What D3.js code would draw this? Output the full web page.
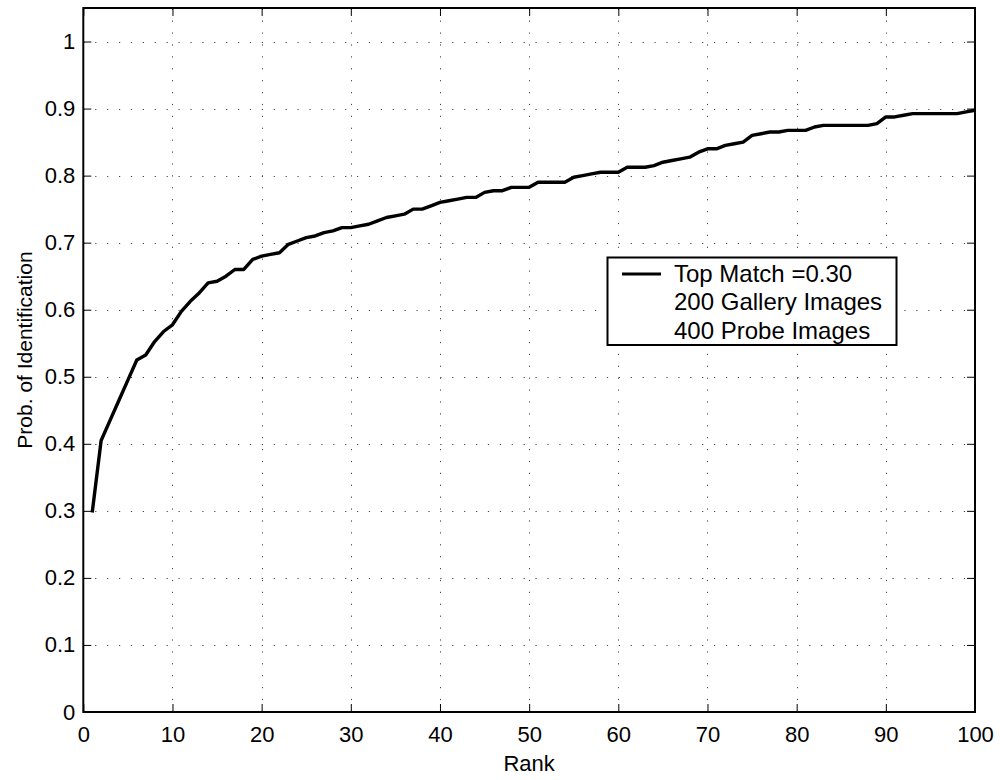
<!DOCTYPE html>
<html>
<head>
<meta charset="utf-8">
<script src="https://cdn.jsdelivr.net/npm/d3@7"></script>
<style>
  html, body { margin: 0; padding: 0; background: #fff; }
  svg { display: block; font-family: "Liberation Sans", Arial, Helvetica, sans-serif; }
</style>
</head>
<body>
<svg id="chart" width="1000" height="780"></svg>
<script>
// ---- data ----
const ranks = d3.range(1, 101);
const probId = [
  0.2975, 0.405, 0.435, 0.465, 0.495, 0.525, 0.5325, 0.5525, 0.5675, 0.5775,
  0.5975, 0.6125, 0.625, 0.64, 0.6425, 0.65, 0.66, 0.66, 0.675, 0.68,
  0.6825, 0.685, 0.6975, 0.7025, 0.7075, 0.71, 0.715, 0.7175, 0.7225, 0.7225,
  0.725, 0.7275, 0.7325, 0.7375, 0.74, 0.7425, 0.75, 0.75, 0.755, 0.76,
  0.7625, 0.765, 0.7675, 0.7675, 0.775, 0.7775, 0.7775, 0.7825, 0.7825, 0.7825,
  0.79, 0.79, 0.79, 0.79, 0.7975, 0.80, 0.8025, 0.805, 0.805, 0.805,
  0.8125, 0.8125, 0.8125, 0.815, 0.82, 0.8225, 0.825, 0.8275, 0.835, 0.84,
  0.84, 0.845, 0.8475, 0.85, 0.86, 0.8625, 0.865, 0.865, 0.8675, 0.8675,
  0.8675, 0.8725, 0.875, 0.875, 0.875, 0.875, 0.875, 0.875, 0.8775, 0.8875,
  0.8875, 0.89, 0.8925, 0.8925, 0.8925, 0.8925, 0.8925, 0.8925, 0.895, 0.8975
];
const xTicks = [0, 10, 20, 30, 40, 50, 60, 70, 80, 90, 100];
const yTicks = [0, 0.1, 0.2, 0.3, 0.4, 0.5, 0.6, 0.7, 0.8, 0.9, 1];
const yTickLabels = ["0", "0.1", "0.2", "0.3", "0.4", "0.5", "0.6", "0.7", "0.8", "0.9", "1"];
const legendLines = ["Top Match =0.30", "200 Gallery Images", "400 Probe Images"];
const xTitle = "Rank";
const yTitle = "Prob. of Identification";

// ---- layout ----
const L = 83.3, R = 975, T = 8, B = 712;
const svg = d3.select("#chart");
const x = d3.scaleLinear().domain([0, 100]).range([L, R]);
const y = d3.scaleLinear().domain([0, 1.05]).range([B, T]);

// grid
const grid = svg.append("g").attr("stroke", "#444").attr("stroke-width", 1)
  .attr("stroke-dasharray", "1.2,10.7");
grid.selectAll(".vg").data(xTicks.filter(d => d > 0 && d < 100)).join("line")
  .attr("x1", d => Math.round(x(d)) + 0.5).attr("x2", d => Math.round(x(d)) + 0.5)
  .attr("y1", B).attr("y2", T);
grid.selectAll(".hg").data(yTicks.filter(d => d > 0)).join("line")
  .attr("y1", d => Math.round(y(d)) + 0.5).attr("y2", d => Math.round(y(d)) + 0.5)
  .attr("x1", L).attr("x2", R);

// axes (MATLAB-style inward ticks on all four sides)
const tickLen = 8;
const fs = 22;
const xAxisB = d3.axisBottom(x).tickValues(xTicks).tickSizeInner(-tickLen).tickSizeOuter(0).tickPadding(14);
const xAxisT = d3.axisTop(x).tickValues(xTicks).tickSizeInner(-tickLen).tickSizeOuter(0).tickFormat("");
const yAxisL = d3.axisLeft(y).tickValues(yTicks).tickSizeInner(-tickLen).tickSizeOuter(0).tickPadding(8)
  .tickFormat((d, i) => yTickLabels[i]);
const yAxisR = d3.axisRight(y).tickValues(yTicks).tickSizeInner(-tickLen).tickSizeOuter(0).tickFormat("");

function styleAxis(g) {
  g.select(".domain").remove();
  g.selectAll(".tick line").attr("stroke", "#000").attr("stroke-width", 1);
  g.selectAll(".tick text").attr("fill", "#000").attr("font-size", fs)
    .attr("font-family", "'Liberation Sans', Arial, Helvetica, sans-serif");
}
svg.append("g").attr("transform", `translate(0,${B})`).call(xAxisB).call(styleAxis);
svg.append("g").attr("transform", `translate(0,${T})`).call(xAxisT).call(styleAxis);
svg.append("g").attr("transform", `translate(${L},0)`).call(yAxisL).call(styleAxis);
svg.append("g").attr("transform", `translate(${R},0)`).call(yAxisR).call(styleAxis);

// box
svg.append("rect").attr("x", L).attr("y", T).attr("width", R - L).attr("height", B - T)
  .attr("fill", "none").attr("stroke", "#000").attr("stroke-width", 2);

// curve
const line = d3.line().x((d, i) => x(ranks[i])).y(d => y(d));
svg.append("path").datum(probId).attr("d", line)
  .attr("fill", "none").attr("stroke", "#000").attr("stroke-width", 3.4)
  .attr("stroke-linejoin", "round");

// titles
svg.append("text").attr("x", (L + R) / 2).attr("y", 771).attr("text-anchor", "middle")
  .attr("font-size", fs).text(xTitle);
svg.append("text").attr("transform", `translate(32,${(T + B) / 2 - 10}) rotate(-90)`)
  .attr("text-anchor", "middle").attr("font-size", 21).text(yTitle);

// legend
const lg = svg.append("g");
lg.append("rect").attr("x", 607.5).attr("y", 257.5).attr("width", 289).attr("height", 87.5)
  .attr("fill", "#fff").attr("stroke", "#000").attr("stroke-width", 2);
lg.append("line").attr("x1", 622).attr("x2", 661).attr("y1", 274).attr("y2", 274)
  .attr("stroke", "#000").attr("stroke-width", 3);
lg.selectAll("text.leg").data(legendLines).join("text").attr("class", "leg")
  .attr("x", 674).attr("y", (d, i) => 282 + i * 28.3)
  .attr("font-size", 24).text(d => d);
</script>
</body>
</html>
